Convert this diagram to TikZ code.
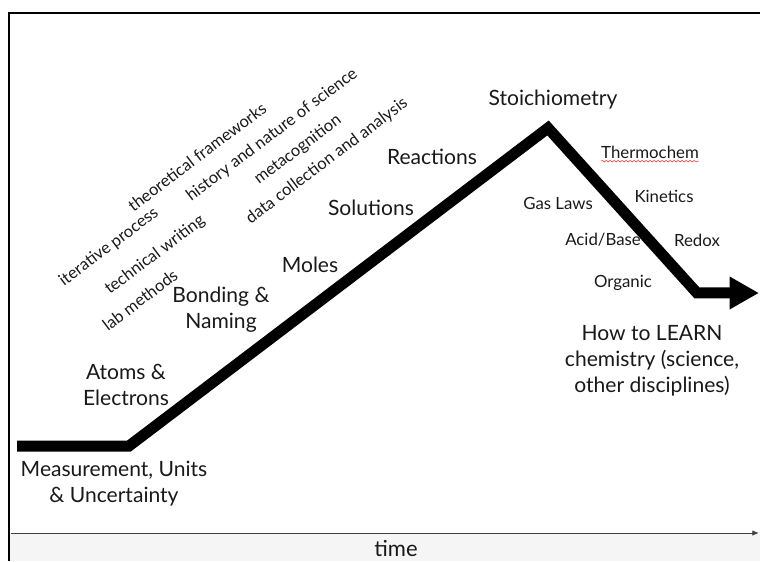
\documentclass[tikz,border=0pt]{standalone}
\usepackage{fontspec}
\setmainfont{Lato}
\usetikzlibrary{arrows.meta,decorations.pathmorphing}

\begin{document}
\begin{tikzpicture}
  [x=0.75pt,y=0.75pt,
   topic/.style={inner sep=0pt,align=center,text=black!90,
     font=\fontsize{15.8}{19.5}\selectfont},
   subtopic/.style={inner sep=0pt,text=black!90,
     font=\fontsize{12.6}{15}\selectfont},
   skill/.style={inner sep=0pt,rotate=37,text=black!90,
     font=\fontsize{12.4}{15}\selectfont},
   path line/.style={line width=8.25pt,miter limit=10,
     -{Triangle[length=22pt,width=23pt]}}]
  \useasboundingbox (0,0) rectangle (760,561);

  % frame and time axis
  \fill[black!4] (10,0) rectangle (760,27);
  \draw[line width=1.5pt] (9,0) -- (9,548) -- (760,548);
  \coordinate (t0) at (11,28);
  \coordinate (t1) at (759,28);
  \draw[line width=0.6pt,black!75,-{Latex[length=5pt,width=4pt]}] (t0) -- (t1);
  \node (time) at (396,12) [subtopic,font=\fontsize{16.5}{18}\selectfont] {time};

  % the course
  \coordinate (start) at (17,115);
  \coordinate (bend) at (129,115);
  \coordinate (peak) at (548,433);
  \coordinate (valley) at (697,268);
  \coordinate (finish) at (759,268);
  \draw[path line] (start) -- (bend) -- (peak) -- (valley) -- (finish);

  % topics
  \node (meas) at (114,77) [topic] {Measurement, Units\\\& Uncertainty};
  \node (atoms) at (126,176) [topic] {Atoms \&\\Electrons};
  \node (bond) at (221,251) [topic] {Bonding \&\\Naming};
  \node (moles) at (310,296) [topic] {Moles};
  \node (sol) at (371,353) [topic] {Solutions};
  \node (react) at (432,404) [topic] {Reactions};
  \node (stoich) at (553,461) [topic] {Stoichiometry};
  \node (learn) at (652,200) [topic] {How to LEARN\\chemistry (science,\\other disciplines)};

  \node (thermo) at (650,409) [subtopic] {Thermochem};
  \draw[red!80,line width=0.4pt,decoration={snake,amplitude=0.6pt,segment length=3pt},decorate]
    ([yshift=-2pt]thermo.south west) -- ([yshift=-2pt]thermo.south east);
  \node (kin) at (664,365) [subtopic] {Kinetics};
  \node (gas) at (558,358) [subtopic] {Gas Laws};
  \node (acid) at (603,321) [subtopic] {Acid/Base};
  \node (redox) at (697,321) [subtopic] {Redox};
  \node (org) at (623,278) [subtopic] {Organic};

  % skills
  \node (theory) at (197,404) [skill] {theoretical frameworks};
  \node (hist) at (272,426) [skill] {history and nature of science};
  \node (iter) at (109,314) [skill] {iterative process};
  \node (tech) at (155,306) [skill] {technical writing};
  \node (meta) at (298,411) [skill] {metacognition};
  \node (data) at (327,400) [skill] {data collection and analysis};
  \node (lab) at (140,261) [skill] {lab methods};

\end{tikzpicture}
\end{document}
